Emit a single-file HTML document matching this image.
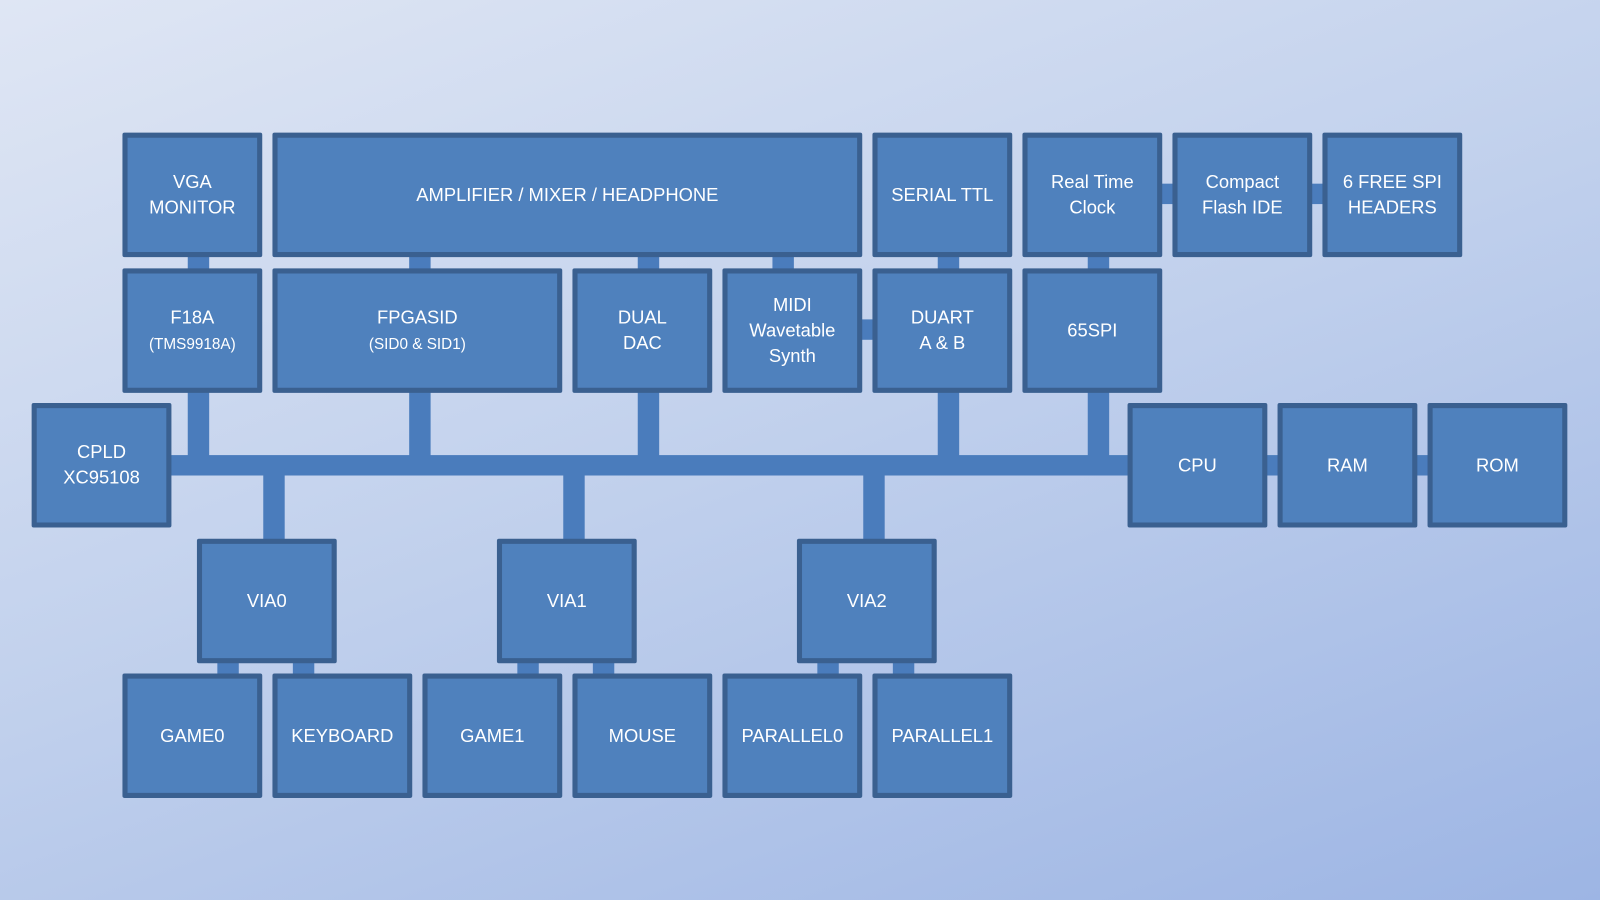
<!DOCTYPE html>
<html><head><meta charset="utf-8"><style>
html,body{margin:0;padding:0;width:1600px;height:900px;overflow:hidden}
body{background:linear-gradient(160deg,#dfe6f4 0%,#c3d2ed 45%,#9db5e4 100%)}
#w{position:absolute;left:0;top:0;width:1568px;height:882px;transform:scale(1.0204);transform-origin:0 0}
.b{position:absolute;box-sizing:border-box;background:#4f81bd;border:5px solid #3a6090;border-radius:2px;color:#fff;font-family:"Liberation Sans",sans-serif;font-size:18px;display:flex;align-items:center;justify-content:center;text-align:center;line-height:25px}
.b small{font-size:15px}
.c{position:absolute;background:#4a7cbc}
</style></head><body><div id="w">
<div class="c" style="left:165px;top:446px;width:945px;height:20px"></div>
<div class="c" style="left:184px;top:250px;width:21px;height:200px"></div>
<div class="c" style="left:401px;top:250px;width:21px;height:200px"></div>
<div class="c" style="left:625px;top:250px;width:21px;height:200px"></div>
<div class="c" style="left:757px;top:250px;width:21px;height:20px"></div>
<div class="c" style="left:919px;top:250px;width:21px;height:200px"></div>
<div class="c" style="left:1066px;top:250px;width:21px;height:200px"></div>
<div class="c" style="left:258px;top:460px;width:21px;height:72px"></div>
<div class="c" style="left:552px;top:460px;width:21px;height:72px"></div>
<div class="c" style="left:846px;top:460px;width:21px;height:72px"></div>
<div class="c" style="left:840px;top:313px;width:20px;height:20px"></div>
<div class="c" style="left:1134px;top:180px;width:20px;height:20px"></div>
<div class="c" style="left:1281px;top:180px;width:20px;height:20px"></div>
<div class="c" style="left:1236px;top:446px;width:20px;height:20px"></div>
<div class="c" style="left:1383px;top:446px;width:20px;height:20px"></div>
<div class="c" style="left:213px;top:645px;width:21px;height:20px"></div>
<div class="c" style="left:287px;top:645px;width:21px;height:20px"></div>
<div class="c" style="left:507px;top:645px;width:21px;height:20px"></div>
<div class="c" style="left:581px;top:645px;width:21px;height:20px"></div>
<div class="c" style="left:801px;top:645px;width:21px;height:20px"></div>
<div class="c" style="left:875px;top:645px;width:21px;height:20px"></div>
<div class="b" style="left:120px;top:130px;width:137px;height:122px"><span>VGA<br>MONITOR</span></div>
<div class="b" style="left:267px;top:130px;width:578px;height:122px"><span>AMPLIFIER / MIXER / HEADPHONE</span></div>
<div class="b" style="left:855px;top:130px;width:137px;height:122px"><span>SERIAL TTL</span></div>
<div class="b" style="left:1002px;top:130px;width:137px;height:122px"><span>Real Time<br>Clock</span></div>
<div class="b" style="left:1149px;top:130px;width:137px;height:122px"><span>Compact<br>Flash IDE</span></div>
<div class="b" style="left:1296px;top:130px;width:137px;height:122px"><span>6 FREE SPI<br>HEADERS</span></div>
<div class="b" style="left:120px;top:263px;width:137px;height:122px"><span>F18A<br><small>(TMS9918A)</small></span></div>
<div class="b" style="left:267px;top:263px;width:284px;height:122px"><span>FPGASID<br><small>(SID0 &amp; SID1)</small></span></div>
<div class="b" style="left:561px;top:263px;width:137px;height:122px"><span>DUAL<br>DAC</span></div>
<div class="b" style="left:708px;top:263px;width:137px;height:122px"><span>MIDI<br>Wavetable<br>Synth</span></div>
<div class="b" style="left:855px;top:263px;width:137px;height:122px"><span>DUART<br>A &amp; B</span></div>
<div class="b" style="left:1002px;top:263px;width:137px;height:122px"><span>65SPI</span></div>
<div class="b" style="left:31px;top:395px;width:137px;height:122px"><span>CPLD<br>XC95108</span></div>
<div class="b" style="left:1105px;top:395px;width:137px;height:122px"><span>CPU</span></div>
<div class="b" style="left:1252px;top:395px;width:137px;height:122px"><span>RAM</span></div>
<div class="b" style="left:1399px;top:395px;width:137px;height:122px"><span>ROM</span></div>
<div class="b" style="left:193px;top:528px;width:137px;height:122px"><span>VIA0</span></div>
<div class="b" style="left:487px;top:528px;width:137px;height:122px"><span>VIA1</span></div>
<div class="b" style="left:781px;top:528px;width:137px;height:122px"><span>VIA2</span></div>
<div class="b" style="left:120px;top:660px;width:137px;height:122px"><span>GAME0</span></div>
<div class="b" style="left:267px;top:660px;width:137px;height:122px"><span>KEYBOARD</span></div>
<div class="b" style="left:414px;top:660px;width:137px;height:122px"><span>GAME1</span></div>
<div class="b" style="left:561px;top:660px;width:137px;height:122px"><span>MOUSE</span></div>
<div class="b" style="left:708px;top:660px;width:137px;height:122px"><span>PARALLEL0</span></div>
<div class="b" style="left:855px;top:660px;width:137px;height:122px"><span>PARALLEL1</span></div>
</div></body></html>
